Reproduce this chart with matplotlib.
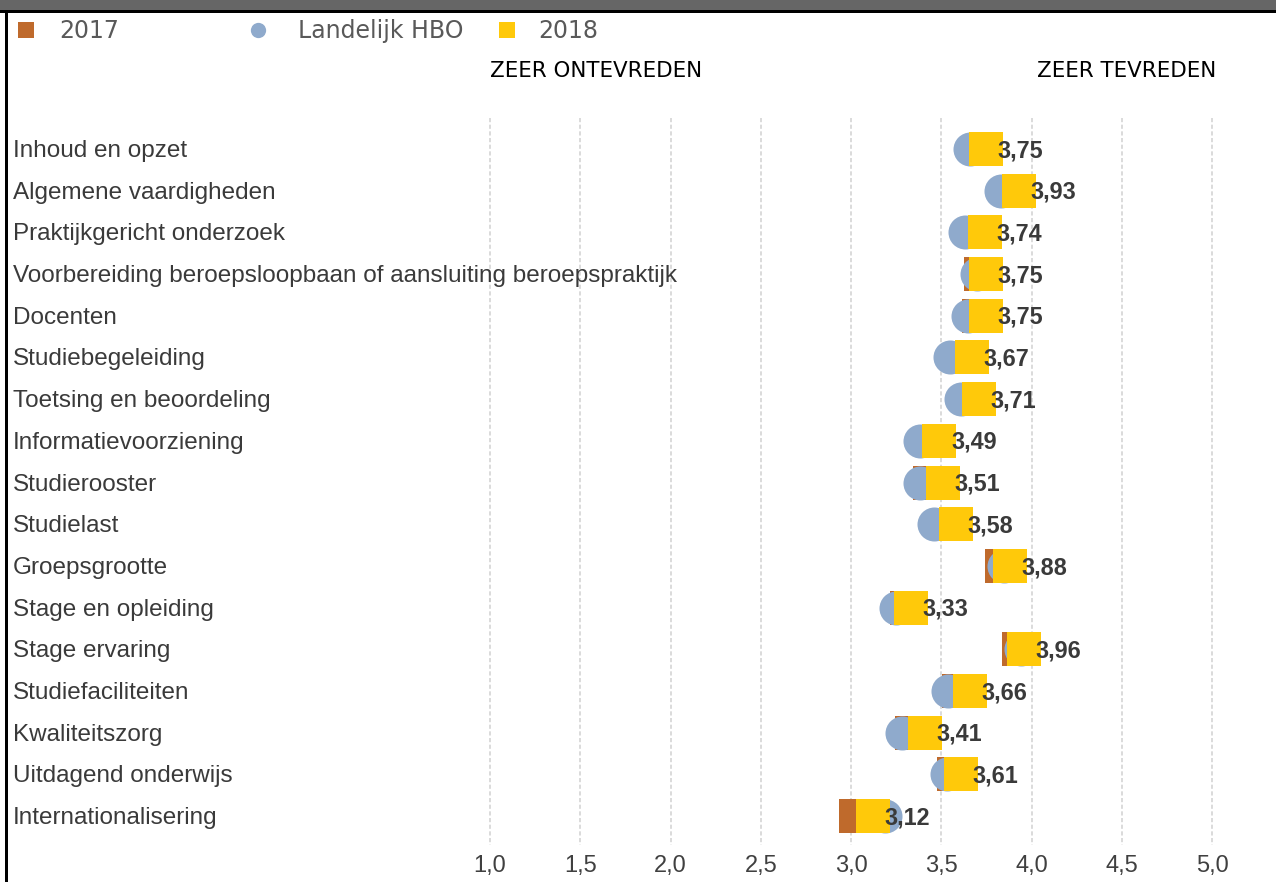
import matplotlib
matplotlib.use("Agg")
import matplotlib.pyplot as plt
from matplotlib.lines import Line2D
from matplotlib.patches import Rectangle
from matplotlib.transforms import blended_transform_factory, ScaledTranslation

categories = [
    "Inhoud en opzet",
    "Algemene vaardigheden",
    "Praktijkgericht onderzoek",
    "Voorbereiding beroepsloopbaan of aansluiting beroepspraktijk",
    "Docenten",
    "Studiebegeleiding",
    "Toetsing en beoordeling",
    "Informatievoorziening",
    "Studierooster",
    "Studielast",
    "Groepsgrootte",
    "Stage en opleiding",
    "Stage ervaring",
    "Studiefaciliteiten",
    "Kwaliteitszorg",
    "Uitdagend onderwijs",
    "Internationalisering",
]
vals_2018 = [3.75, 3.93, 3.74, 3.75, 3.75, 3.67, 3.71, 3.49, 3.51, 3.58,
             3.88, 3.33, 3.96, 3.66, 3.41, 3.61, 3.12]
vals_hbo = [3.66, 3.83, 3.63, 3.70, 3.65, 3.55, 3.61, 3.38, 3.38, 3.46,
            3.845, 3.25, 3.94, 3.54, 3.28, 3.53, 3.19]
vals_2017 = [3.75, 3.93, 3.74, 3.72, 3.71, 3.67, 3.71, 3.49, 3.44, 3.58,
             3.835, 3.31, 3.93, 3.60, 3.34, 3.57, 3.03]
xticks = [1.0, 1.5, 2.0, 2.5, 3.0, 3.5, 4.0, 4.5, 5.0]

C_2017 = "#BF6A2C"
C_HBO = "#8FAACC"
C_2018 = "#FFC90A"
TXT = "#3a3a3a"

W, H = 1276, 882
fig = plt.figure(figsize=(W / 100, H / 100), dpi=100)

# pixel mapping of the reference: value 1.0 -> x=490, 0.5 step = 90.25 px
PX_PER_UNIT = 180.5
X0_PX = 490
ROW0_PX, ROW_STEP = 149, 41.69
ax_l, ax_r, ax_t, ax_b = 10, W, 100, 848
ax = fig.add_axes([ax_l / W, 1 - ax_b / H, (ax_r - ax_l) / W, (ax_b - ax_t) / H])
ax.set_xlim(1 + (ax_l - X0_PX) / PX_PER_UNIT, 1 + (ax_r - X0_PX) / PX_PER_UNIT)
ax.set_ylim((ax_b - ROW0_PX) / ROW_STEP, (ax_t - ROW0_PX) / ROW_STEP)
ax.axis("off")

# dashed grid
g_top = (118 - ROW0_PX) / ROW_STEP
g_bot = (845 - ROW0_PX) / ROW_STEP
ax.vlines(xticks, g_top, g_bot, colors="#d4d4d4", linestyles=(0, (2.5, 1.5)), lw=1.2, zorder=0)

rows = list(range(len(categories)))
ms = 24.5
ax.plot(vals_2017, rows, "s", ms=ms, color=C_2017, mew=0, zorder=2)
ax.plot(vals_hbo, rows, "o", ms=ms, color=C_HBO, mew=0, zorder=3)
ax.plot(vals_2018, rows, "s", ms=ms, color=C_2018, mew=0, zorder=4)

for r, v in zip(rows, vals_2018):
    ax.annotate(f"{v:.2f}".replace(".", ","), (v, r), xytext=(8.3, -1.2),
                textcoords="offset points", ha="left", va="center",
                fontsize=16.8, fontweight="bold", color=TXT,
                family="Liberation Sans", zorder=5)

lab_tr = blended_transform_factory(fig.transFigure, ax.transData) + \
    ScaledTranslation(0, -2 / 100, fig.dpi_scale_trans)
for r, name in zip(rows, categories):
    ax.text(13 / W, r, name, transform=lab_tr, ha="left", va="center",
            fontsize=17.5, color=TXT, family="Liberation Sans")

tick_tr = blended_transform_factory(ax.transData, fig.transFigure)
for t in xticks:
    ax.text(t, 1 - 866 / H, f"{t:.1f}".replace(".", ","), transform=tick_tr,
            ha="center", va="center", fontsize=17, color="#404040",
            family="Liberation Sans")

# headers
fig.text(596 / W, 1 - 71 / H, "ZEER ONTEVREDEN", ha="center", va="center",
         fontsize=15.4, color="black", family="DejaVu Sans")
fig.text(1127 / W, 1 - 71 / H, "ZEER TEVREDEN", ha="center", va="center",
         fontsize=15.4, color="black", family="DejaVu Sans")

# legend row
ov = fig.add_axes([0, 0, 1, 1], zorder=-1)
ov.set_xlim(0, W)
ov.set_ylim(H, 0)
ov.axis("off")
ov.add_patch(Rectangle((0, 0), W, 10, facecolor="#666666", edgecolor="none"))
ov.add_patch(Rectangle((0, 10), W, 3, facecolor="black", edgecolor="none"))
ov.add_patch(Rectangle((5, 10), 3, H - 10, facecolor="black", edgecolor="none"))
leg = [("2017", "s", C_2017, 26, 59), ("Landelijk HBO", "o", C_HBO, 258, 298),
       ("2018", "s", C_2018, 507, 538)]
for lab, mk, col, mx, tx in leg:
    ov.add_line(Line2D([mx], [30], marker=mk, ms=11, color=col, mew=0))
    ov.text(tx, 31, lab, ha="left", va="center", fontsize=17, color="#595959",
            family="DejaVu Sans")

fig.savefig("out.png", dpi=100)
